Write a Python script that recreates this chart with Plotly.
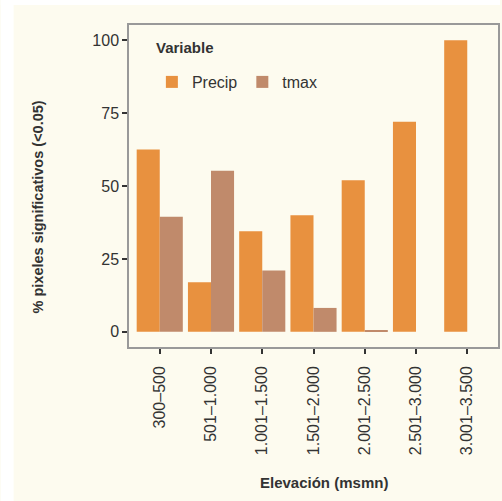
import plotly.graph_objects as go

categories = ["300–500", "501–1.000", "1.001–1.500", "1.501–2.000",
              "2.001–2.500", "2.501–3.000", "3.001–3.500"]
precip = [62.5, 17, 34.5, 40, 52, 72, 100]
tmax = [39.5, 55.2, 21, 8.2, 0.4, 0, 0]

W, H = 502, 501
L, R, T, B = 129, 500, 25, 347
pw, ph = R - L, B - T

def px_x(x):
    return (x - L) / pw

def px_y(y):
    return (B - y) / ph

cream = "#FDFBEF"
fig = go.Figure()
fig.add_trace(go.Bar(name="Precip", x=categories, y=precip, marker_color="#E8913F",
                     marker_line_width=0))
fig.add_trace(go.Bar(name="tmax", x=categories, y=tmax, marker_color="#C08A6B",
                     marker_line_width=0))

font = dict(family="Liberation Sans, Arial, sans-serif", color="#333333")
fig.update_layout(
    width=W, height=H,
    margin=dict(l=L, r=W - R, t=T, b=H - B),
    paper_bgcolor=cream, plot_bgcolor=cream,
    barmode="group", bargap=0.1, bargroupgap=0,
    font=dict(size=16, **font),
    legend=dict(orientation="h", x=px_x(152), y=px_y(82), xanchor="left", yanchor="middle",
                bgcolor="rgba(0,0,0,0)", font=dict(size=16, color="#333333"), itemwidth=30,
                tracegroupgap=0),
    showlegend=True,
    xaxis=dict(range=[-0.6, 6.6], tickangle=-90, ticks="outside", ticklen=5,
               tickcolor="#333333", tickwidth=1.5, showline=True, mirror=True,
               linecolor="#999999", linewidth=1.5, showgrid=False, ticklabelstandoff=6,
               tickfont=dict(size=16, color="#333333")),
    yaxis=dict(range=[-5.2, 105.2], tickvals=[0, 25, 50, 75, 100], ticks="outside",
               ticklen=5, tickcolor="#333333", tickwidth=1.5, showline=True, mirror=True,
               linecolor="#999999", linewidth=1.5, showgrid=False, zeroline=False,
               tickfont=dict(size=16, color="#333333")),
    shapes=[
        dict(type="rect", xref="paper", yref="paper", x0=px_x(0), x1=px_x(W),
             y0=px_y(0), y1=px_y(5), fillcolor="white", line_width=0, layer="below"),
        dict(type="rect", xref="paper", yref="paper", x0=px_x(0), x1=px_x(13),
             y0=px_y(0), y1=px_y(H), fillcolor="white", line_width=0, layer="below"),
    ],
    annotations=[
        dict(text="<b>Variable</b>", xref="paper", yref="paper",
             x=px_x(154), y=px_y(48), showarrow=False,
             font=dict(size=15, color="#333333"), xanchor="left", yanchor="middle"),
        dict(text="<b>% pixeles significativos (<0.05)</b>", xref="paper", yref="paper",
             x=px_x(38), y=px_y(207), textangle=-90, showarrow=False,
             font=dict(size=14.5, color="#333333"), xanchor="center", yanchor="middle"),
        dict(text="<b>Elevación (msmn)</b>", xref="paper", yref="paper",
             x=px_x(325), y=px_y(482), showarrow=False,
             font=dict(size=15, color="#333333"), xanchor="center", yanchor="middle"),
    ],
)
fig.write_html("out.html")
